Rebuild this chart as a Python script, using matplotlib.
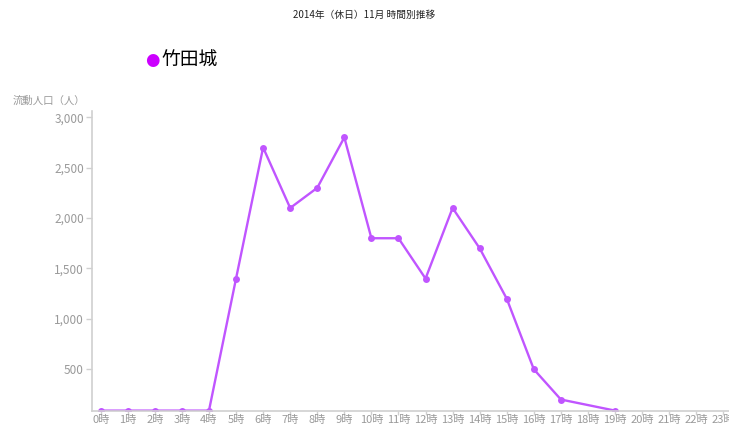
import numpy as np
import matplotlib.pyplot as plt
from matplotlib.ticker import FuncFormatter

plt.rcParams['font.family'] = ['Noto Sans CJK JP', 'DejaVu Sans']

hours = [f'{h}時' for h in range(24)]
# 18時 and 20時-23時 have no data
visitors = [90, 90, 90, 90, 90, 1400, 2700, 2100, 2300, 2800, 1800, 1800,
            1400, 2100, 1700, 1200, 500, 200, None, 90, None, None, None, None]
series_name = '竹田城'
title = '2014年（休日）11月 時間別推移'
y_label = '流動人口（人）'

line_color = '#c055ff'
legend_color = '#cc00ff'
axis_color = '#d0d0d0'
tick_text = '#9a9a9a'


def main():
    fig = plt.figure(figsize=(7.29, 4.25), dpi=100)
    ax = fig.add_axes([0.1266, 0.0329, 0.8734, 0.7066])

    x = np.array([i for i, v in enumerate(visitors) if v is not None])
    y = np.array([v for v in visitors if v is not None])
    ax.plot(x, y, color=line_color, linewidth=1.7, marker='o', markersize=5,
            markeredgewidth=0)

    ax.set_xlim(-0.31, 23.21)
    ax.set_ylim(86, 3065)
    ax.set_xticks(range(24))
    ax.set_xticklabels(hours)
    ax.set_yticks([500, 1000, 1500, 2000, 2500, 3000])
    ax.yaxis.set_major_formatter(FuncFormatter(lambda v, p: f'{int(v):,}'))

    for side in ['top', 'right']:
        ax.spines[side].set_visible(False)
    for side in ['left', 'bottom']:
        ax.spines[side].set_color(axis_color)
        ax.spines[side].set_linewidth(1.2)
    ax.tick_params(axis='both', colors=axis_color, labelcolor=tick_text,
                   labelsize=8, length=4, width=1)
    ax.tick_params(axis='x', pad=0, length=3)
    ax.tick_params(axis='y', pad=2, labelsize=8.5)

    fig.text(0.5, 0.965, title, ha='center', va='center', fontsize=7,
             color='#222222')
    fig.text(0.117, 0.763, y_label, ha='right', va='center', fontsize=7.5,
             color=tick_text)

    fig.text(0.209, 0.858, '●', ha='center', va='center', fontsize=12,
             color=legend_color, family='DejaVu Sans')
    fig.text(0.221, 0.858, series_name, ha='left', va='center', fontsize=13.5,
             color='black')

    fig.savefig('out.png', dpi=100)


if __name__ == '__main__':
    main()
